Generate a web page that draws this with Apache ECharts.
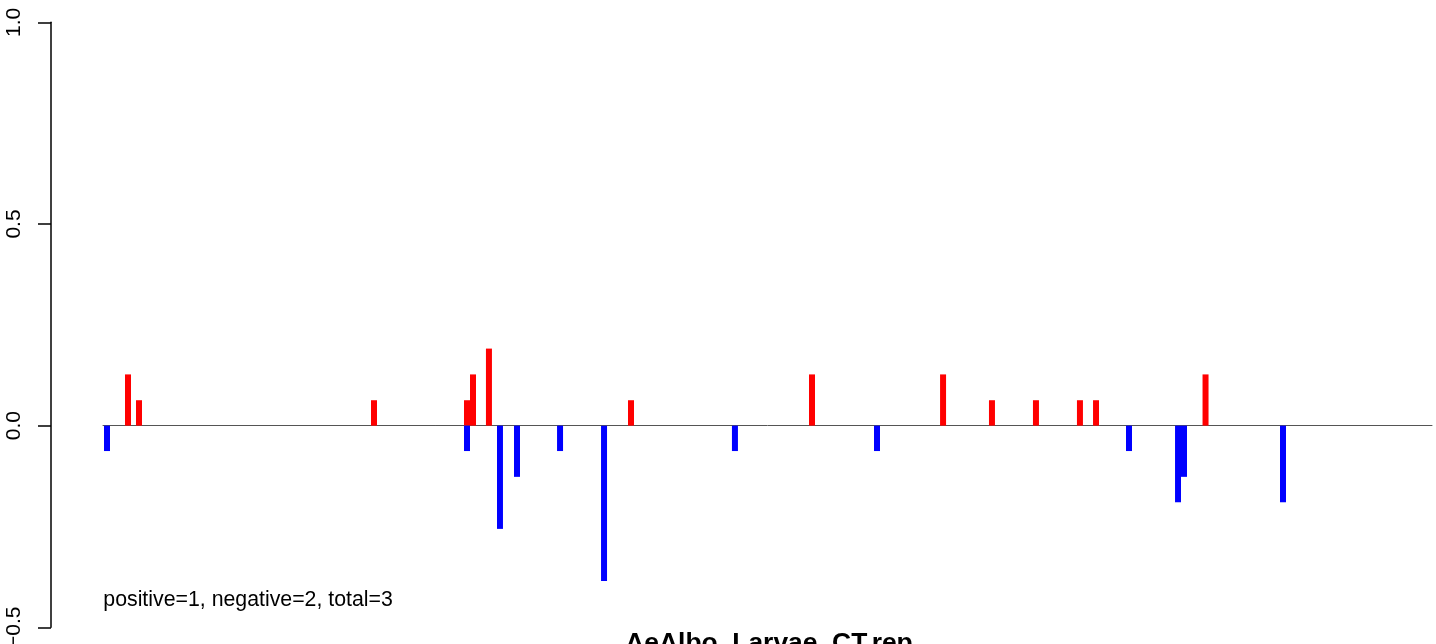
<!DOCTYPE html>
<html>
<head>
<meta charset="utf-8">
<script src="https://cdn.jsdelivr.net/npm/echarts@6/dist/echarts.min.js"></script>
<style>
html,body{margin:0;padding:0;background:#fff;}
#chart{width:1436px;height:644px;}
</style>
</head>
<body>
<div id="chart"></div>
<script>
// Positions along the track (arbitrary units 0..1000) and values
var posX = [18.8, 27.1, 203.9, 273.9, 278.4, 290.4, 397.3, 533.5, 632.1, 668.9, 702.0, 735.1, 747.2, 829.6];
var posY = [0.127, 0.063, 0.063, 0.063, 0.127, 0.191, 0.063, 0.127, 0.127, 0.063, 0.063, 0.063, 0.063, 0.127];
var negX = [3.0, 273.9, 298.7, 311.5, 343.9, 377.0, 475.5, 582.4, 772.0, 808.9, 813.4, 887.9];
var negY = [-0.063, -0.063, -0.256, -0.127, -0.063, -0.385, -0.063, -0.063, -0.063, -0.19, -0.127, -0.19];
var yTicks = [-0.5, 0.0, 0.5, 1.0];
var titleText = 'AeAlbo_Larvae_CT.rep';
var noteText = 'positive=1, negative=2, total=3';

var FONT = '"Liberation Sans", Arial, sans-serif';
var chart = echarts.init(document.getElementById('chart'), null, {renderer: 'canvas'});

function pairs(xs, ys) { return xs.map(function (x, i) { return [x, ys[i]]; }); }

chart.setOption({
  animation: false,
  backgroundColor: '#ffffff',
  grid: {left: 103, right: 4, top: 22.3, bottom: 16.7, containLabel: false, outerBoundsMode: 'none'},
  xAxis: {
    type: 'value', min: 0, max: 1000,
    axisLine: {show: true, onZero: true, lineStyle: {color: '#555555', width: 1}},
    axisTick: {show: false}, axisLabel: {show: false}, splitLine: {show: false}
  },
  yAxis: {
    type: 'value', min: yTicks[0], max: yTicks[yTicks.length - 1], interval: 0.5,
    offset: 52,
    axisLine: {show: true, onZero: false, lineStyle: {color: '#000', width: 1.5}},
    axisTick: {show: true, length: 13, lineStyle: {color: '#000', width: 1.5}},
    axisLabel: {
      show: true, rotate: 90, margin: 26,
      fontFamily: FONT, fontSize: 21, color: '#000',
      formatter: function (v) { var s = Math.abs(v) < 1e-9 ? '0.0' : v.toFixed(1); return s.replace('-', '\u2212'); }
    },
    splitLine: {show: false}
  },
  series: [
    {type: 'bar', name: 'pos', data: pairs(posX, posY), barWidth: 6, barGap: '-100%',
     itemStyle: {color: '#ff0000'}, z: 2},
    {type: 'bar', name: 'neg', data: pairs(negX, negY), barWidth: 6, barGap: '-100%',
     itemStyle: {color: '#0000ff'}, z: 2}
  ],
  graphic: [
    {type: 'text', left: 103.3, top: 590, z: 10,
     style: {text: noteText, font: '21.3px ' + FONT, fill: '#000', textAlign: 'left', textVerticalAlign: 'top'}},
    {type: 'text', z: 10, x: 769, y: 643.4,
     style: {text: titleText, font: 'bold 26.4px ' + FONT, fill: '#000', textAlign: 'center', textVerticalAlign: 'middle'}}
  ]
});
</script>
</body>
</html>
